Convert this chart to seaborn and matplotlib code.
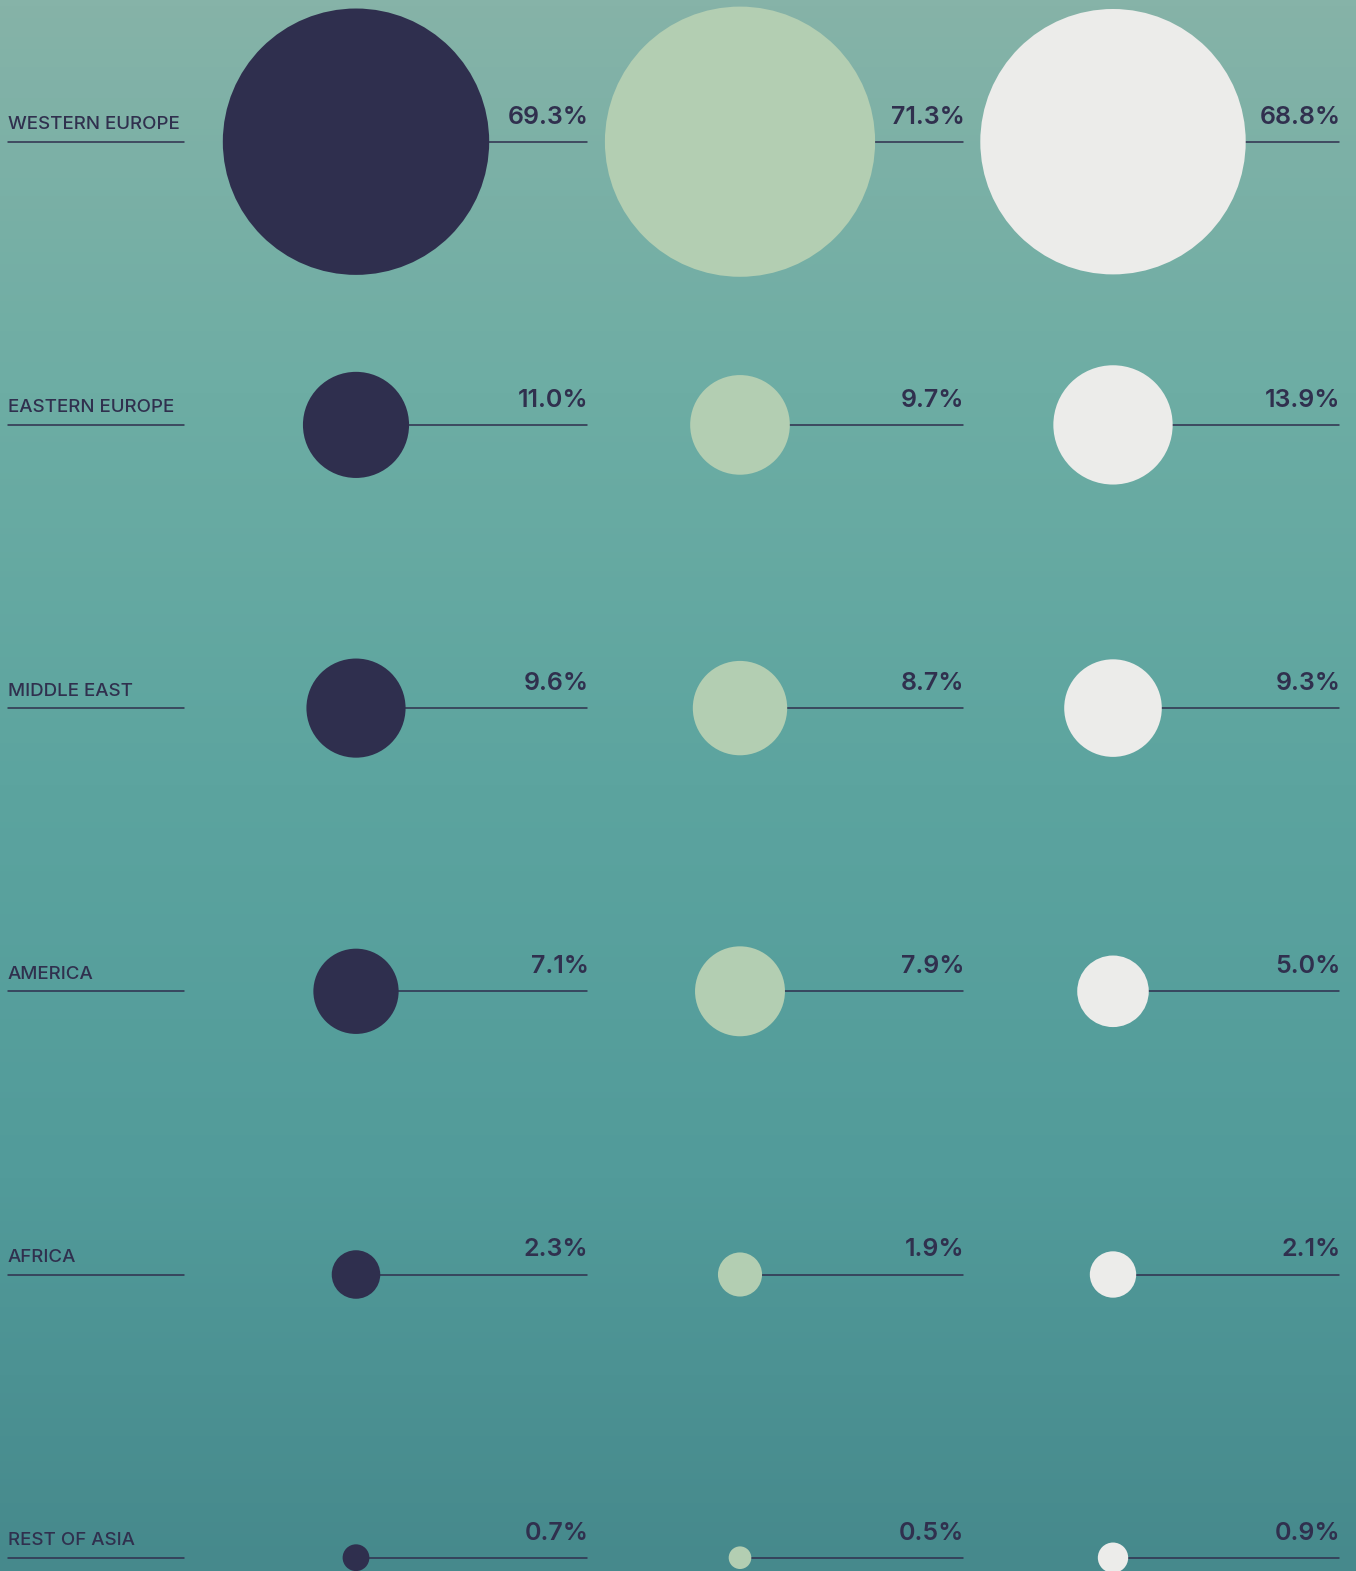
import seaborn as sns
import matplotlib.pyplot as plt
from matplotlib.colors import LinearSegmentedColormap
import pandas as pd
import numpy as np

# datos
regiones = ['WESTERN EUROPE', 'EASTERN EUROPE', 'MIDDLE EAST', 'AMERICA', 'AFRICA', 'REST OF ASIA']
serie_1 = [69.3, 11.0, 9.6, 7.1, 2.3, 0.7]
serie_2 = [71.3, 9.7, 8.7, 7.9, 1.9, 0.5]
serie_3 = [68.8, 13.9, 9.3, 5.0, 2.1, 0.9]
series = ['serie_1', 'serie_2', 'serie_3']

colores = ['#2f2f4e', '#b3ceb2', '#ececea']
color_texto = '#30304e'

# layout en pixeles
W, H = 1356, 1571
fila_y0, fila_paso = 141.7, 283.2
col_x = [356, 740, 1113]
fin_linea = [587, 963, 1339]

filas = []
for s, vals in zip(series, [serie_1, serie_2, serie_3]):
    for i, (reg, v) in enumerate(zip(regiones, vals)):
        filas.append({'serie': s, 'region': reg, 'valor': v,
                      'x': col_x[series.index(s)], 'y': fila_y0 + i * fila_paso})
df = pd.DataFrame(filas)

sns.set_style('white')
plt.rcParams['font.family'] = ['Inter', 'DejaVu Sans']

fig = plt.figure(figsize=(W / 100, H / 100), dpi=100)
ax = fig.add_axes([0, 0, 1, 1])
ax.set_xlim(0, W)
ax.set_ylim(H, 0)
ax.axis('off')

# fondo degradado
fondo = LinearSegmentedColormap.from_list('fondo', ['#86b3a8', '#6dada4', '#5ca49f', '#529b9a', '#46898c'])
grad = np.linspace(0, 1, 256).reshape(-1, 1)
ax.imshow(grad, cmap=fondo, aspect='auto', extent=[0, W, H, 0], zorder=0)

# lineas de etiquetas y textos
for i, reg in enumerate(regiones):
    y = fila_y0 + i * fila_paso
    ax.plot([8, 184], [y, y], color=color_texto, lw=1.1, zorder=1)
    ax.text(8, y - 12.5, reg, fontsize=13.5, fontweight='medium', color=color_texto,
            ha='left', va='baseline')

for j, s in enumerate(series):
    sub = df[df['serie'] == s]
    for _, r in sub.iterrows():
        ax.plot([r['x'], fin_linea[j]], [r['y'], r['y']], color=color_texto, lw=1.1, zorder=1)
        ax.text(fin_linea[j] + 1.5, r['y'] - 18, f"{r['valor']:.1f}%", fontsize=18,
                fontweight='semibold', color=color_texto, ha='right', va='baseline')

sns.scatterplot(data=df, x='x', y='y', hue='serie', hue_order=series, palette=colores,
                size='valor', sizes=(0, 530.8 * 100), size_norm=(0, 100),
                linewidth=0, legend=False, ax=ax, zorder=3, clip_on=False)

ax.set_xlim(0, W)
ax.set_ylim(H, 0)
plt.savefig('out.png', dpi=100)
plt.close()
